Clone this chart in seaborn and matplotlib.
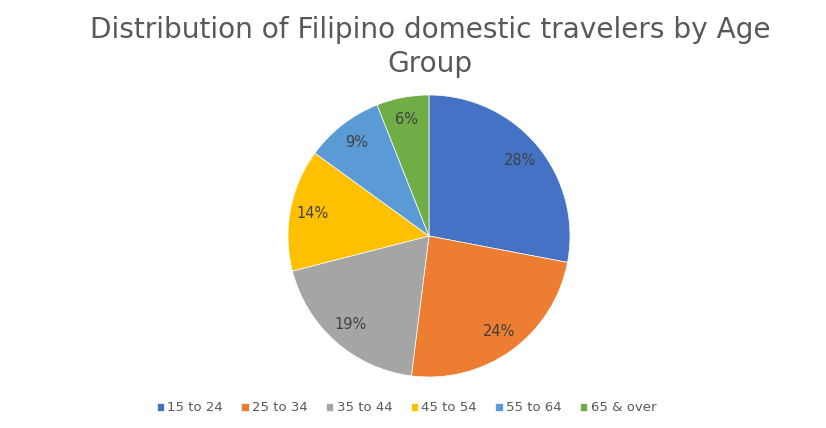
import matplotlib
matplotlib.use('Agg')
import matplotlib.pyplot as plt
import seaborn as sns

age_groups = ['15 to 24', '25 to 34', '35 to 44', '45 to 54', '55 to 64', '65 & over']
shares = [28, 24, 19, 14, 9, 6]
colors = ['#4472C4', '#ED7D31', '#A5A5A5', '#FFC000', '#5B9BD5', '#70AD47']

sns.set_theme(style='white')
plt.rcParams['font.family'] = ['DejaVu Sans']

fig = plt.figure(figsize=(8.26, 4.28), dpi=100)
ax = fig.add_axes([288 / 826, 51 / 428, 282 / 826, 282 / 428])

wedges, texts, autotexts = ax.pie(
    shares, colors=colors, startangle=90, counterclock=False,
    autopct='%1.0f%%', pctdistance=0.84, radius=1,
    wedgeprops=dict(edgecolor='white', linewidth=0.5),
    textprops=dict(color='#404040', fontsize=10.5))
ax.set_xlim(-1, 1)
ax.set_ylim(-1, 1)
ax.set_aspect('equal')
ax.axis('off')

fig.text(0.521, 0.962, 'Distribution of Filipino domestic travelers by Age\nGroup',
         ha='center', va='top', fontsize=20.2, color='#595959', linespacing=1.25)

leg = fig.legend(wedges, age_groups, loc='center', bbox_to_anchor=(0.492, 0.047),
                 ncol=6, frameon=False, fontsize=9.5, handlelength=0.55, handleheight=0.55,
                 handletextpad=0.25, columnspacing=1.4)
for t in leg.get_texts():
    t.set_color('#595959')

fig.savefig('out.png', dpi=100)
